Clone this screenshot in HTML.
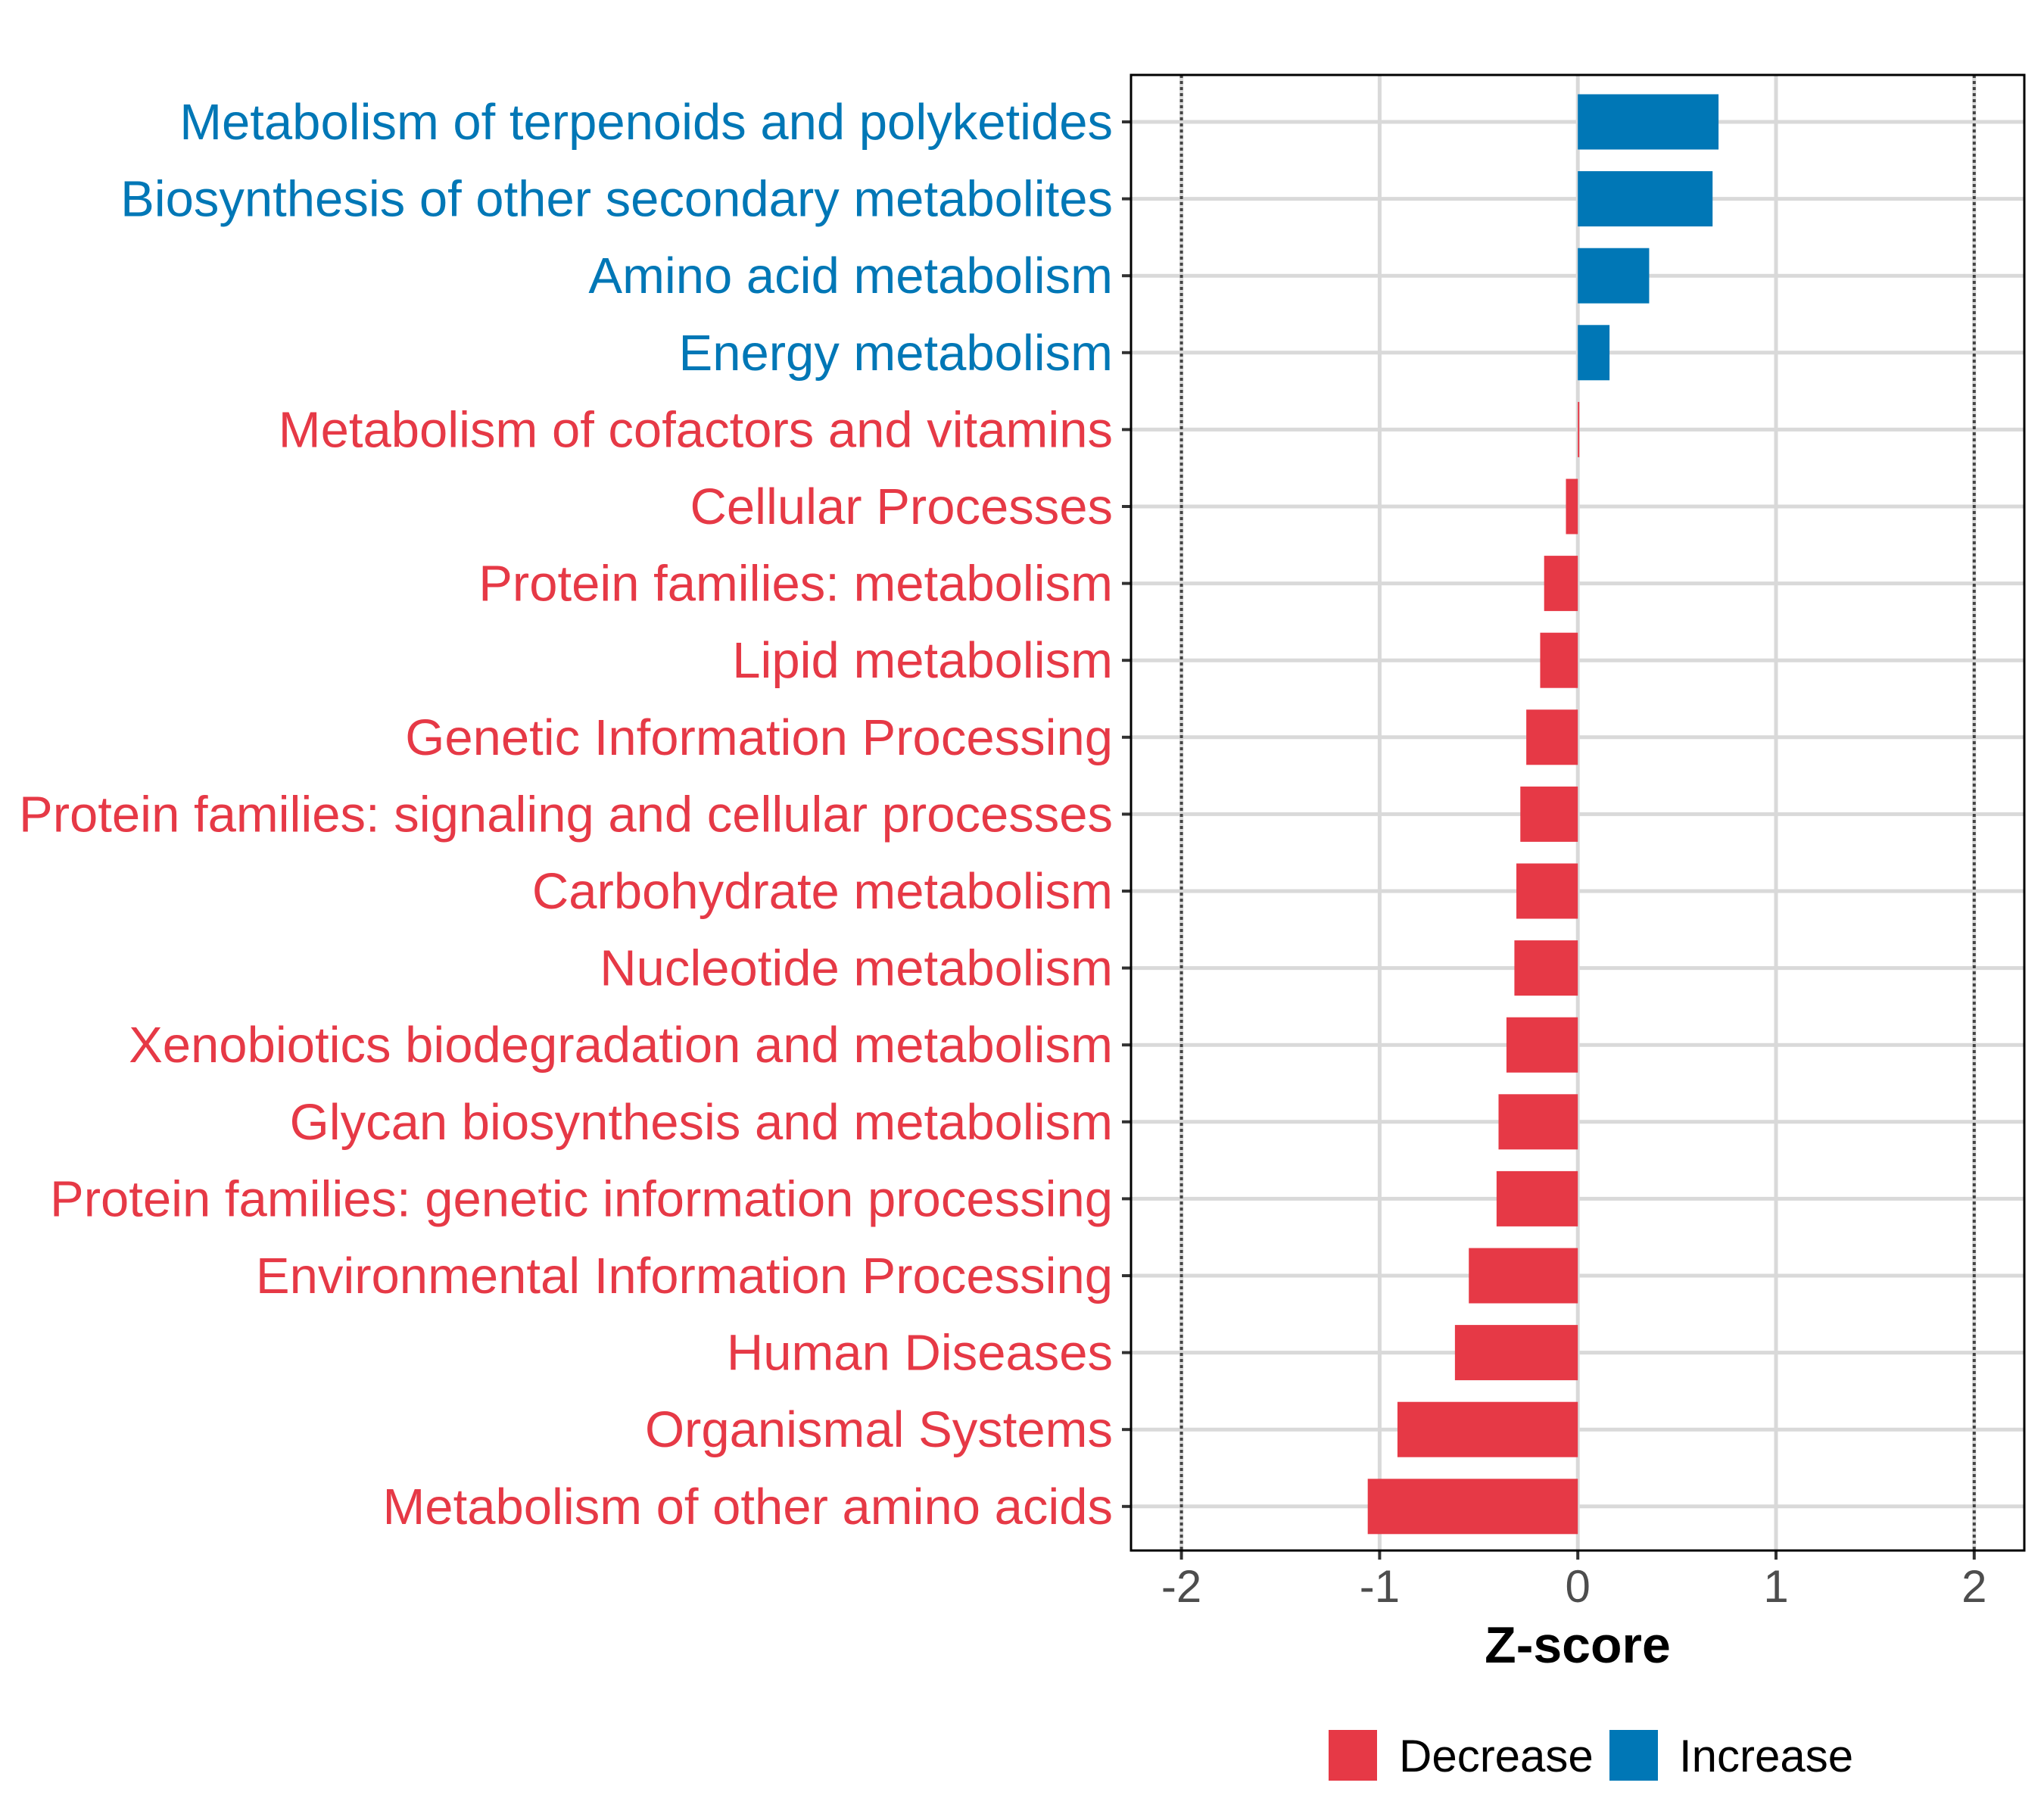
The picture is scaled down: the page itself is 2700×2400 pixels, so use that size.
<!DOCTYPE html>
<html><head><meta charset="utf-8"><style>
html,body{margin:0;padding:0;background:#fff;}
svg{display:block;font-family:"Liberation Sans",Arial,sans-serif;}
</style></head><body>
<svg id="chart" width="2700" height="2400" viewBox="0 0 2700 2400" xmlns="http://www.w3.org/2000/svg">
<rect width="2700" height="2400" fill="#fff"/>
<g id="grid"></g>
<g id="bars"></g>
<g id="labels"></g>
<g id="xaxis"></g>
<rect x="1494" y="99" width="1180" height="1949" fill="none" stroke="#000" stroke-width="3"/>
<text x="2084" y="2196" text-anchor="middle" font-size="68" font-weight="bold" fill="#000">Z-score</text>
<g>
<rect x="1755" y="2285" width="64" height="67" fill="#E63946"/>
<text x="1848" y="2340" font-size="60" fill="#000">Decrease</text>
<rect x="2126" y="2285" width="64" height="67" fill="#0077B6"/>
<text x="2218" y="2340" font-size="60" fill="#000">Increase</text>
</g>
</svg>
<script>
const categories = ["Metabolism of terpenoids and polyketides","Biosynthesis of other secondary metabolites","Amino acid metabolism","Energy metabolism","Metabolism of cofactors and vitamins","Cellular Processes","Protein families: metabolism","Lipid metabolism","Genetic Information Processing","Protein families: signaling and cellular processes","Carbohydrate metabolism","Nucleotide metabolism","Xenobiotics biodegradation and metabolism","Glycan biosynthesis and metabolism","Protein families: genetic information processing","Environmental Information Processing","Human Diseases","Organismal Systems","Metabolism of other amino acids"];
const zscores = [0.71,0.68,0.36,0.16,0.005,-0.06,-0.17,-0.19,-0.26,-0.29,-0.31,-0.32,-0.36,-0.40,-0.41,-0.55,-0.62,-0.91,-1.06];
const xTicks = [-2,-1,0,1,2];
const xTickLabels = ["-2","-1","0","1","2"];
const thresholds = [-2,2];

const NS="http://www.w3.org/2000/svg";
const panel={l:1494,r:2674,t:99,b:2048};
function xs(v){return 2084.2+v*261.8;}
function ys(i){return 161+i*101.6;}
function mk(tag,attrs,parent){const e=document.createElementNS(NS,tag);for(const k in attrs)e.setAttribute(k,attrs[k]);parent.appendChild(e);return e;}
const grid=document.getElementById('grid'),bars=document.getElementById('bars'),labels=document.getElementById('labels'),xaxis=document.getElementById('xaxis');
xTicks.forEach((t,i)=>{
  const g=mk('line',{x1:xs(t),x2:xs(t),y1:panel.t,y2:panel.b,stroke:'#d9d9d9','stroke-width':5},grid);
  
  
  const tk=mk('line',{x1:xs(t),x2:xs(t),y1:panel.b,y2:panel.b+12,stroke:'#333','stroke-width':4},xaxis);
  
  
  const tl=mk('text',{x:xs(t),y:2116,'text-anchor':'middle','font-size':60,fill:'#4d4d4d'},xaxis);
  tl.textContent=xTickLabels[i];
  
  
});
categories.forEach((c,i)=>{
  const g=mk('line',{x1:panel.l,x2:panel.r,y1:ys(i),y2:ys(i),stroke:'#d9d9d9','stroke-width':5},grid);
  
  
});
thresholds.forEach(t=>{
  const d=mk('line',{x1:xs(t),x2:xs(t),y1:panel.t,y2:panel.b,stroke:'#444','stroke-width':4,'stroke-dasharray':'4 4'},grid);
  
  
});
categories.forEach((c,i)=>{
  const v=zscores[i];
  const col=v>0.01?'#0077B6':'#E63946';
  const x0=Math.min(xs(0),xs(v)),w=Math.max(Math.abs(xs(v)-xs(0)),2);
  const b=mk('rect',{x:x0,y:ys(i)-36.5,width:w,height:73,fill:col},bars);
  
  
  const tk=mk('line',{x1:panel.l-12,x2:panel.l,y1:ys(i),y2:ys(i),stroke:'#333','stroke-width':4},labels);
  
  
  const t=mk('text',{x:1470,y:ys(i)+23,'text-anchor':'end','font-size':67,fill:col},labels);
  t.textContent=c;
  
  
});
</script>
</body></html>
